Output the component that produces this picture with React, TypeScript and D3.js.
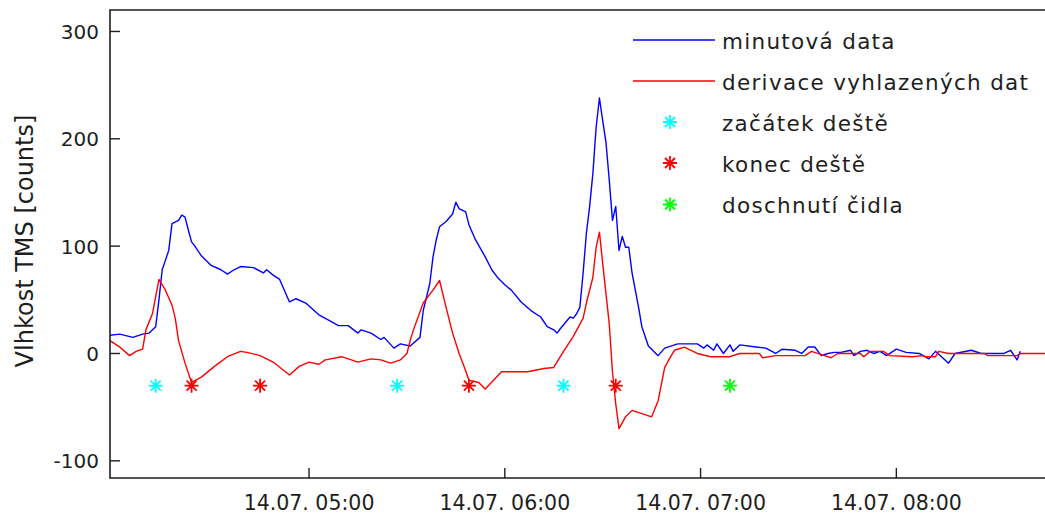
import React from "react";
import * as d3 from "d3";

// Minute readings of the TMS moisture sensor, 14.07. (time, counts)
const minuteData: [string, number][] = [
  ["03:59", 17], ["04:02", 18], ["04:06", 15], ["04:09", 18], ["04:11", 19], ["04:13", 25],
  ["04:14", 50], ["04:15", 78], ["04:16", 87], ["04:17", 96], ["04:18", 121], ["04:20", 124],
  ["04:21", 129], ["04:22", 127], ["04:23", 115], ["04:24", 104], ["04:25", 100], ["04:27", 91],
  ["04:30", 82], ["04:33", 78], ["04:35", 74], ["04:37", 78], ["04:39", 81], ["04:43", 80],
  ["04:46", 75], ["04:47", 78], ["04:49", 73], ["04:51", 69], ["04:52", 62], ["04:53", 55],
  ["04:54", 48], ["04:56", 51], ["04:59", 47], ["05:03", 36], ["05:06", 31], ["05:09", 26],
  ["05:12", 26], ["05:15", 19], ["05:16", 22], ["05:19", 19], ["05:22", 13], ["05:23", 15],
  ["05:26", 5], ["05:28", 9], ["05:31", 7], ["05:34", 15], ["05:35", 40], ["05:37", 65],
  ["05:38", 90], ["05:39", 106], ["05:40", 118], ["05:42", 123], ["05:44", 130], ["05:45", 141],
  ["05:46", 135], ["05:48", 132], ["05:49", 120], ["05:51", 106], ["05:54", 90], ["05:56", 78],
  ["05:58", 70], ["06:00", 64], ["06:02", 59], ["06:05", 48], ["06:08", 40], ["06:11", 34],
  ["06:13", 25], ["06:15", 22], ["06:16", 19], ["06:17", 23], ["06:20", 34], ["06:21", 33],
  ["06:22", 37], ["06:23", 43], ["06:24", 75], ["06:25", 112], ["06:26", 137], ["06:27", 168],
  ["06:28", 211], ["06:29", 238], ["06:30", 217], ["06:31", 197], ["06:32", 162], ["06:33", 124],
  ["06:34", 137], ["06:35", 96], ["06:36", 109], ["06:37", 99], ["06:38", 99], ["06:39", 75],
  ["06:41", 43], ["06:42", 25], ["06:44", 7], ["06:47", -2], ["06:49", 5], ["06:53", 9],
  ["06:59", 9], ["07:01", 5], ["07:02", 8], ["07:04", 3], ["07:05", 9], ["07:07", 0],
  ["07:09", 8], ["07:10", 2], ["07:12", 8], ["07:17", 6], ["07:20", 5], ["07:23", 0],
  ["07:25", 4], ["07:29", 3], ["07:31", 0], ["07:33", 6], ["07:35", 6], ["07:37", -2],
  ["07:39", 0], ["07:41", 1], ["07:43", 1], ["07:46", 3], ["07:47", -2], ["07:49", 2],
  ["07:51", 3], ["07:53", 0], ["07:55", 2], ["07:57", -2], ["08:00", 4], ["08:03", 1],
  ["08:07", 0], ["08:10", -5], ["08:12", 2], ["08:16", -9], ["08:18", 0], ["08:23", 3],
  ["08:26", 0], ["08:33", 0], ["08:35", 3], ["08:37", -6], ["08:38", 2],
];

// Derivative of the smoothed series (time, counts)
const derivativeData: [string, number][] = [
  ["03:59", 12], ["04:02", 6], ["04:05", -2], ["04:07", 2], ["04:09", 4], ["04:10", 22],
  ["04:12", 37], ["04:13", 53], ["04:14", 69], ["04:16", 59], ["04:18", 45], ["04:19", 33],
  ["04:20", 12], ["04:22", -9], ["04:24", -27], ["04:27", -22], ["04:31", -12], ["04:35", -3],
  ["04:39", 2], ["04:41", 1], ["04:45", -2], ["04:49", -8], ["04:54", -20], ["04:57", -12],
  ["05:00", -8], ["05:03", -10], ["05:05", -6], ["05:10", -3], ["05:15", -8], ["05:19", -5],
  ["05:22", -6], ["05:25", -9], ["05:28", -6], ["05:29", -3], ["05:30", 0], ["05:31", 12],
  ["05:32", 22], ["05:35", 47], ["05:38", 59], ["05:40", 68], ["05:42", 43], ["05:44", 19],
  ["05:46", 0], ["05:48", -16], ["05:49", -25], ["05:52", -27], ["05:54", -33], ["05:59", -17],
  ["06:07", -17], ["06:12", -14], ["06:15", -13], ["06:18", 2], ["06:21", 16], ["06:24", 33],
  ["06:25", 47], ["06:27", 71], ["06:28", 99], ["06:29", 113], ["06:30", 84], ["06:32", 28],
  ["06:33", -17], ["06:34", -47], ["06:35", -70], ["06:37", -59], ["06:39", -53], ["06:45", -59],
  ["06:47", -44], ["06:49", -13], ["06:51", -2], ["06:52", 3], ["06:55", 6], ["06:59", 0],
  ["07:03", -3], ["07:09", -3], ["07:12", 0], ["07:18", 0], ["07:19", -4], ["07:23", -2],
  ["07:32", -2], ["07:34", 2], ["07:38", -2], ["07:40", -4], ["07:42", 0], ["07:49", 0],
  ["07:50", -3], ["07:52", 2], ["07:56", 2], ["07:58", -2], ["08:05", -3], ["08:08", -2],
  ["08:09", -3], ["08:12", -3], ["08:13", 2], ["08:16", 0], ["08:27", 0], ["08:28", -2],
  ["08:37", -2], ["08:38", 0], ["08:47", 0],
];

// Detected events, all plotted at the same marker level
const eventLevel = -30;
const rainStart = ["04:13", "05:27", "06:18"];
const rainEnd = ["04:24", "04:45", "05:49", "06:34"];
const sensorDry = ["07:09"];

const dateLabel = "14.07.";
const xTickTimes = ["05:00", "06:00", "07:00", "08:00"];
const yTicks = [-100, 0, 100, 200, 300];
const yLabel = "Vlhkost TMS [counts]";
const legendLabels = [
  "minutová data",
  "derivace vyhlazených dat",
  "začátek deště",
  "konec deště",
  "doschnutí čidla",
];

const toMin = (t: string) => {
  const [h, m] = t.split(":").map(Number);
  return h * 60 + m;
};

const W = 1045;
const H = 515;
const plot = { left: 110, right: 1049.7, top: 10, bottom: 478 };

const BLUE = "#0000ff";
const RED = "#ff0000";
const CYAN = "#00ffff";
const GREEN = "#00ff00";
const INK = "#1e1e1e";
const TICK_FONT = "'DejaVu Sans', sans-serif";
const LABEL_FONT = "'DejaVu Sans', sans-serif";

function Star({ x, y, color }: { x: number; y: number; color: string }) {
  const a = 7;
  const b = 5;
  const d = `M${x - a},${y}H${x + a}M${x},${y - a}V${y + a}M${x - b},${y - b}L${x + b},${y + b}M${x - b},${y + b}L${x + b},${y - b}`;
  return <path d={d} stroke={color} strokeWidth={1.8} fill="none" />;
}

export default function App() {
  const x = d3.scaleLinear().domain([239, 527]).range([plot.left, plot.right]);
  const y = d3.scaleLinear().domain([-116, 320]).range([plot.bottom, plot.top]);

  const line = d3
    .line<[string, number]>()
    .x((d) => x(toMin(d[0])))
    .y((d) => y(d[1]));

  const legendRowsBaseline = [48.5, 89.5, 130.5, 171.5, 213];
  const legendTextX = 722;
  const legendMarkerX = 670;

  const eventGroups: { times: string[]; color: string }[] = [
    { times: rainStart, color: CYAN },
    { times: rainEnd, color: RED },
    { times: sensorDry, color: GREEN },
  ];

  return (
    <svg
      width={W}
      height={H}
      style={{ position: "absolute", left: 0, top: 0, display: "block", background: "#fff" }}
    >
      <defs>
        <clipPath id="plotClip">
          <rect x={plot.left} y={plot.top} width={plot.right - plot.left} height={plot.bottom - plot.top} />
        </clipPath>
      </defs>

      <g clipPath="url(#plotClip)">
        <path d={line(minuteData) ?? ""} fill="none" stroke={BLUE} strokeWidth={1.4} strokeLinejoin="round" />
        <path d={line(derivativeData) ?? ""} fill="none" stroke={RED} strokeWidth={1.4} strokeLinejoin="round" />
        {eventGroups.map((g, gi) =>
          g.times.map((t, i) => (
            <Star key={`${gi}-${i}`} x={x(toMin(t))} y={y(eventLevel)} color={g.color} />
          ))
        )}
      </g>

      {/* axes frame */}
      <path
        d={`M${plot.right},${plot.top}H${plot.left}V${plot.bottom}H${plot.right}`}
        fill="none"
        stroke={INK}
        strokeWidth={1.6}
      />

      {/* y ticks */}
      {yTicks.map((v) => (
        <g key={v}>
          <line x1={plot.left} x2={plot.left + 10} y1={y(v)} y2={y(v)} stroke={INK} strokeWidth={1.4} />
          <text
            x={plot.left - 11}
            y={y(v) + 7.5}
            textAnchor="end"
            fontFamily={TICK_FONT}
            fontSize={20}
            fill={INK}
          >
            {v}
          </text>
        </g>
      ))}

      {/* x ticks */}
      {xTickTimes.map((t) => (
        <g key={t}>
          <line
            x1={x(toMin(t))}
            x2={x(toMin(t))}
            y1={plot.bottom}
            y2={plot.bottom - 10}
            stroke={INK}
            strokeWidth={1.4}
          />
          <text x={x(toMin(t))} y={510} textAnchor="middle" fontFamily={TICK_FONT} fontSize={20.5} fill={INK}>
            {`${dateLabel} ${t}`}
          </text>
        </g>
      ))}

      {/* y axis label */}
      <text
        transform="translate(33,241) rotate(-90)"
        textAnchor="middle"
        fontFamily={LABEL_FONT}
        fontSize={24}
        fill={INK}
      >
        {yLabel}
      </text>

      {/* legend */}
      <g fontFamily={LABEL_FONT} fontSize={21.5} fill={INK} letterSpacing={1.3}>
        <line x1={633} x2={715} y1={legendRowsBaseline[0] - 8.5} y2={legendRowsBaseline[0] - 8.5} stroke={BLUE} strokeWidth={1.4} />
        <line x1={633} x2={715} y1={legendRowsBaseline[1] - 8.5} y2={legendRowsBaseline[1] - 8.5} stroke={RED} strokeWidth={1.4} />
        <Star x={legendMarkerX} y={legendRowsBaseline[2] - 8.5} color={CYAN} />
        <Star x={legendMarkerX} y={legendRowsBaseline[3] - 8.5} color={RED} />
        <Star x={legendMarkerX} y={legendRowsBaseline[4] - 8.5} color={GREEN} />
        {legendLabels.map((s, i) => (
          <text key={s} x={legendTextX} y={legendRowsBaseline[i]}>
            {s}
          </text>
        ))}
      </g>
    </svg>
  );
}
